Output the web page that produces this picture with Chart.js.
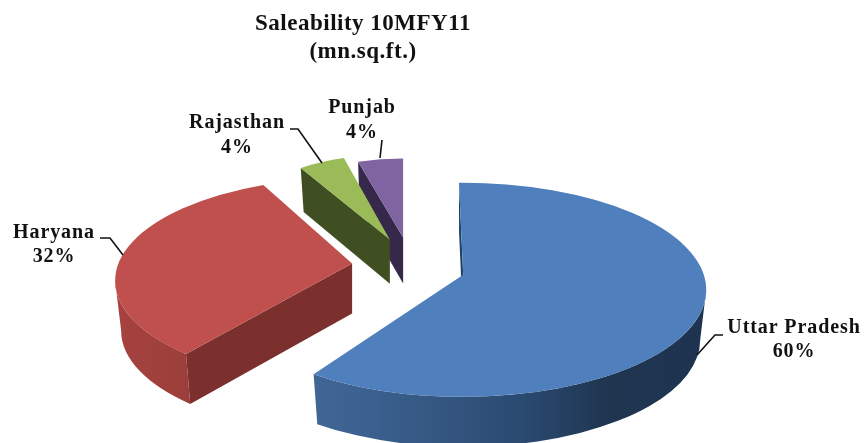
<!DOCTYPE html>
<html>
<head>
<meta charset="utf-8">
<title>Saleability 10MFY11</title>
<script src="https://cdn.jsdelivr.net/npm/chart.js@4/dist/chart.umd.min.js"></script>
<style>
  html, body { margin: 0; padding: 0; background: #fff; }
  canvas { display: block; }
</style>
</head>
<body>
<canvas id="saleChart" width="865" height="443"></canvas>
<script>
const states = ['Uttar Pradesh', 'Haryana', 'Rajasthan', 'Punjab'];
const shares = [60, 32, 4, 4];

const topColors = ['#4f7fbc', '#c0504d', '#9bbb59', '#8064a2'];
const faceColors = ['#1f4468', '#7c302e', '#404f22', '#35284a'];

// Fake 3D: each slice is an ellipse sector with its own size, pulled out of the pie
const pieNudgeX = 46;
const squash = 0.44;
const explode = [57, 57, 52, 47];
const rimX = [243, 237, 185, 181];
const rimY = [107, 103, 106, 103];
const apexLift = [15, 17, 21, 24];
const depth = [50, 50, 44, 46];
const turnStart = [-1, 8.5, 0, 0];
const turnEnd = [2, 6.8, 0, 0];
const rimShrink = 6;

// Text anchors and leader lines
const labelPos = [[794, 328, 352], [54, 233, 257], [237, 123, 148], [362, 108, 133]];
const leaders = [
  [[697, 355], [715, 335], [723, 335]],
  [[100, 238], [110, 238], [123, 255]],
  [[290, 129], [298, 129], [322, 163]],
  [[382, 140], [380, 158]],
];

function wallFill(ctx, i, x, rx) {
  const g = ctx.createLinearGradient(x - rx, 0, x + rx, 0);
  if (i === 0) {
    g.addColorStop(0, '#48709f');
    g.addColorStop(0.3, '#3c6190');
    g.addColorStop(0.62, '#2a4a70');
    g.addColorStop(0.8, '#1f3550');
    g.addColorStop(1, '#1e3350');
  } else {
    g.addColorStop(0, '#a6423f');
    g.addColorStop(0.35, '#8f3a37');
    g.addColorStop(1, '#7c302e');
  }
  return g;
}

function drawSlab(ctx, arc, i) {
  const mid = (arc.startAngle + arc.endAngle) / 2;
  const x = arc.x + pieNudgeX + Math.cos(mid) * explode[i];
  const y = arc.y + Math.sin(mid) * explode[i] * squash;
  const rx = rimX[i], ry = rimY[i], d = depth[i];
  const a0 = arc.startAngle + turnStart[i] * Math.PI / 180;
  const a1 = arc.endAngle + turnEnd[i] * Math.PI / 180;
  const apexY = y - apexLift[i];

  // cut face on the leading edge, the trailing one is always hidden
  const cy = y + ry * Math.sin(a0);
  ctx.fillStyle = faceColors[i];
  ctx.beginPath();
  ctx.moveTo(x + rx * Math.cos(a0), cy);
  ctx.lineTo(x, apexY);
  ctx.lineTo(x, apexY + d);
  ctx.lineTo(x + (rx - rimShrink) * Math.cos(a0), cy + d);
  ctx.closePath();
  ctx.fill();

  // outer wall, only on the front half of the rim
  const from = Math.max(a0, 0), to = Math.min(a1, Math.PI);
  if (from < to) {
    ctx.fillStyle = wallFill(ctx, i, x, rx);
    ctx.beginPath();
    ctx.ellipse(x, y, rx, ry, 0, from, to);
    ctx.ellipse(x, y + d, rx - rimShrink, ry, 0, to, from, true);
    ctx.closePath();
    ctx.fill();
  }

  ctx.fillStyle = topColors[i];
  ctx.beginPath();
  ctx.moveTo(x, apexY);
  ctx.ellipse(x, y, rx, ry, 0, a0, a1);
  ctx.closePath();
  ctx.fill();
}

const slabs = {
  id: 'slabs',
  beforeDraw(chart) {
    // the source is a soft, upscaled screenshot
    chart.ctx.filter = 'blur(0.45px)';
    chart.ctx.letterSpacing = '0.5px';
  },
  beforeDatasetDraw(chart, args) {
    const ctx = chart.ctx;
    const arcs = args.meta.data;
    ctx.save();
    // far slices first, the green one sits in front of the purple one
    for (let i = arcs.length - 1; i >= 0; i--) drawSlab(ctx, arcs[i], i);
    ctx.restore();
    return false;
  },
  afterDatasetsDraw(chart) {
    const ctx = chart.ctx;
    ctx.save();
    ctx.strokeStyle = '#111';
    ctx.lineWidth = 1.6;
    leaders.forEach((pts) => {
      ctx.beginPath();
      pts.forEach((p, k) => (k ? ctx.lineTo(p[0], p[1]) : ctx.moveTo(p[0], p[1])));
      ctx.stroke();
    });
    ctx.fillStyle = '#111';
    ctx.font = 'bold 20px "Liberation Serif"';
    ctx.letterSpacing = '0.9px';
    ctx.textAlign = 'center';
    ctx.textBaseline = 'middle';
    states.forEach((name, i) => {
      const [tx, y1, y2] = labelPos[i];
      ctx.fillText(name, tx, y1);
      ctx.fillText(shares[i] + '%', tx, y2);
    });
    ctx.restore();
  },
};

new Chart(document.getElementById('saleChart'), {
  type: 'pie',
  data: {
    labels: states,
    datasets: [{ data: shares, backgroundColor: topColors, borderWidth: 0 }],
  },
  options: {
    responsive: false,
    animation: false,
    layout: { padding: { right: 139 } },
    plugins: {
      legend: { display: false },
      tooltip: { enabled: false },
      title: {
        display: true,
        text: ['Saleability 10MFY11', '(mn.sq.ft.)'],
        color: '#111',
        font: { family: '"Liberation Serif"', size: 23, weight: 'bold', lineHeight: 1.22 },
        padding: { top: 10, bottom: 55 },
      },
    },
  },
  plugins: [slabs],
});
</script>
</body>
</html>
